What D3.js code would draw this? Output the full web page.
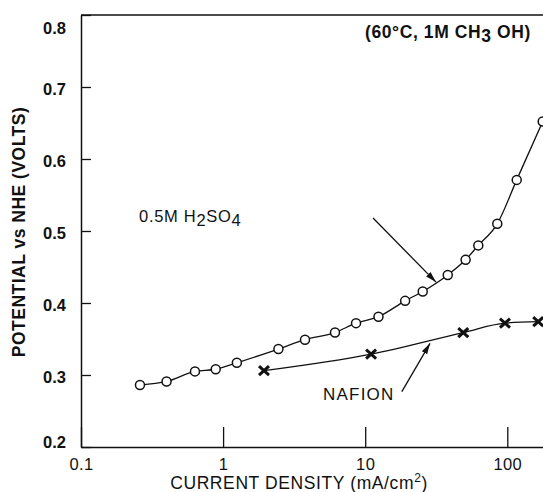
<!DOCTYPE html>
<html>
<head>
<meta charset="utf-8">
<script src="https://cdn.jsdelivr.net/npm/d3@7.9.0/dist/d3.min.js"></script>
<style>
  body { margin: 0; background: #fff; }
  svg { display: block; font-family: "Liberation Sans", Arial, Helvetica, sans-serif; }
  .axis text { fill: #111; }
</style>
</head>
<body>
<div id="chart"></div>
<script>
// 0.5M H2SO4 electrolyte (open circles)
const acidCurrent = [0.26, 0.40, 0.634, 0.887, 1.25, 2.45, 3.77, 6.13, 8.62, 12.4, 19.1, 25.4, 38.1, 50.9, 62.5, 85.0, 116.5, 177.5];
const acidPotential = [0.286, 0.291, 0.305, 0.308, 0.317, 0.336, 0.349, 0.359, 0.372, 0.381, 0.403, 0.416, 0.439, 0.460, 0.480, 0.510, 0.571, 0.652];

// Nafion electrolyte (crosses)
const nafionCurrent = [1.94, 11.0, 49.0, 96.3, 165];
const nafionPotential = [0.306, 0.329, 0.359, 0.372, 0.374];

const xTicks = [0.1, 1, 10, 100];
const xTickLabels = ["0.1", "1", "10", "100"];
const yTicks = [0.2, 0.3, 0.4, 0.5, 0.6, 0.7, 0.8];

// annotation arrows, [from, to] in data units
const arrows = [
  [[11.35, 0.518], [31.5, 0.429]],
  [[18.1, 0.277], [28.6, 0.344]]
];

const width = 543, height = 492;

// four decades, ~142px each; the last one runs off the right edge
const x = d3.scaleLog().domain([0.1, 1000]).range([81, 81 + 4 * 142.1]);
const y = d3.scaleLinear().domain([0.2, 0.8]).range([447, 15]);

const svg = d3.select("#chart").append("svg")
  .attr("width", width)
  .attr("height", height);

svg.append("defs").append("marker")
  .attr("id", "head")
  .attr("viewBox", "0 0 10 10")
  .attr("refX", 10).attr("refY", 5)
  .attr("markerWidth", 11).attr("markerHeight", 11)
  .attr("markerUnits", "userSpaceOnUse")
  .attr("orient", "auto")
  .append("path")
  .attr("d", "M0,2.2L10,5L0,7.8Z")
  .attr("fill", "#111");

// x axis (ticks pointing inward)
const xAxis = svg.append("g")
  .attr("class", "axis")
  .attr("transform", `translate(0,${y(0.2)})`)
  .call(d3.axisBottom(x).tickValues(xTicks)
    .tickFormat((d, i) => xTickLabels[i])
    .tickSizeInner(-20).tickSizeOuter(0).tickPadding(11));
xAxis.select(".domain").attr("stroke", "#111").attr("stroke-width", 1.5);
xAxis.selectAll(".tick line").attr("stroke", "#111").attr("stroke-width", 1.3);
xAxis.selectAll("text").attr("font-size", 16.5).attr("letter-spacing", 0.4);

// y axis
const yAxis = svg.append("g")
  .attr("class", "axis")
  .attr("transform", `translate(${x(0.1)},0)`)
  .call(d3.axisLeft(y).tickValues(yTicks)
    .tickFormat(d3.format(".1f"))
    .tickSizeInner(-10).tickSizeOuter(0).tickPadding(15));
yAxis.select(".domain").attr("stroke", "#111").attr("stroke-width", 1.5);
yAxis.selectAll(".tick line").attr("stroke", "#111").attr("stroke-width", 1.3);
yAxis.selectAll("text")
  .attr("font-size", 16.5).attr("font-weight", "bold")
  .attr("dy", d => d === 0.8 ? "1.1em" : d === 0.2 ? "0.0em" : "0.45em");

// top frame line
svg.append("line")
  .attr("x1", x(0.1)).attr("x2", width)
  .attr("y1", y(0.8)).attr("y2", y(0.8))
  .attr("stroke", "#111").attr("stroke-width", 1.5);

// axis titles
svg.append("text")
  .attr("x", 299).attr("y", 489)
  .attr("text-anchor", "middle")
  .attr("font-size", 17.5).attr("letter-spacing", 0.6)
  .attr("fill", "#111")
  .html('CURRENT DENSITY (mA/cm<tspan dy="-7" font-size="12">2</tspan><tspan dy="7">)</tspan>');

svg.append("text")
  .attr("transform", `translate(25,${(y(0.2) + y(0.8)) / 2 + 1}) rotate(-90)`)
  .attr("text-anchor", "middle")
  .attr("font-size", 17.5).attr("font-weight", "bold").attr("letter-spacing", 0.5)
  .attr("fill", "#111")
  .text("POTENTIAL vs NHE (VOLTS)");

const line = d3.line().curve(d3.curveMonotoneX);

const acid = acidCurrent.map((c, i) => [x(c), y(acidPotential[i])]);
const nafion = nafionCurrent.map((c, i) => [x(c), y(nafionPotential[i])]);

svg.append("path")
  .attr("d", line(acid))
  .attr("fill", "none").attr("stroke", "#111").attr("stroke-width", 1.3);

svg.append("path")
  .attr("d", line(nafion))
  .attr("fill", "none").attr("stroke", "#111").attr("stroke-width", 1.3);

svg.selectAll("circle.acid")
  .data(acid)
  .join("circle")
  .attr("class", "acid")
  .attr("cx", d => d[0]).attr("cy", d => d[1])
  .attr("r", 4.5)
  .attr("fill", "#fff").attr("stroke", "#111").attr("stroke-width", 1.5);

svg.selectAll("path.cross")
  .data(nafion)
  .join("path")
  .attr("class", "cross")
  .attr("transform", d => `translate(${d[0]},${d[1]})`)
  .attr("d", "M-5,-4.5L5,4.5M-5,4.5L5,-4.5")
  .attr("stroke", "#111").attr("stroke-width", 3);

// arrows
svg.selectAll("line.arrow")
  .data(arrows)
  .join("line")
  .attr("class", "arrow")
  .attr("x1", d => x(d[0][0])).attr("y1", d => y(d[0][1]))
  .attr("x2", d => x(d[1][0])).attr("y2", d => y(d[1][1]))
  .attr("stroke", "#111").attr("stroke-width", 1.3)
  .attr("marker-end", "url(#head)");

// labels
svg.append("text")
  .attr("x", x(0.256)).attr("y", y(0.5125))
  .attr("font-size", 16.5).attr("letter-spacing", 0.7).attr("fill", "#111")
  .html('0.5M H<tspan dy="4">2</tspan><tspan dy="-4">SO</tspan><tspan dy="4">4</tspan>');

svg.append("text")
  .attr("x", x(5.05)).attr("y", y(0.265))
  .attr("font-size", 17).attr("letter-spacing", 1.2).attr("fill", "#111")
  .text("NAFION");

svg.append("text")
  .attr("x", x(9.97)).attr("y", y(0.768))
  .attr("font-size", 17.5).attr("font-weight", "bold").attr("letter-spacing", 0.6).attr("fill", "#111")
  .html('(60°C, 1M CH<tspan dy="4">3</tspan><tspan dy="-4"> OH)</tspan>');
</script>
</body>
</html>
